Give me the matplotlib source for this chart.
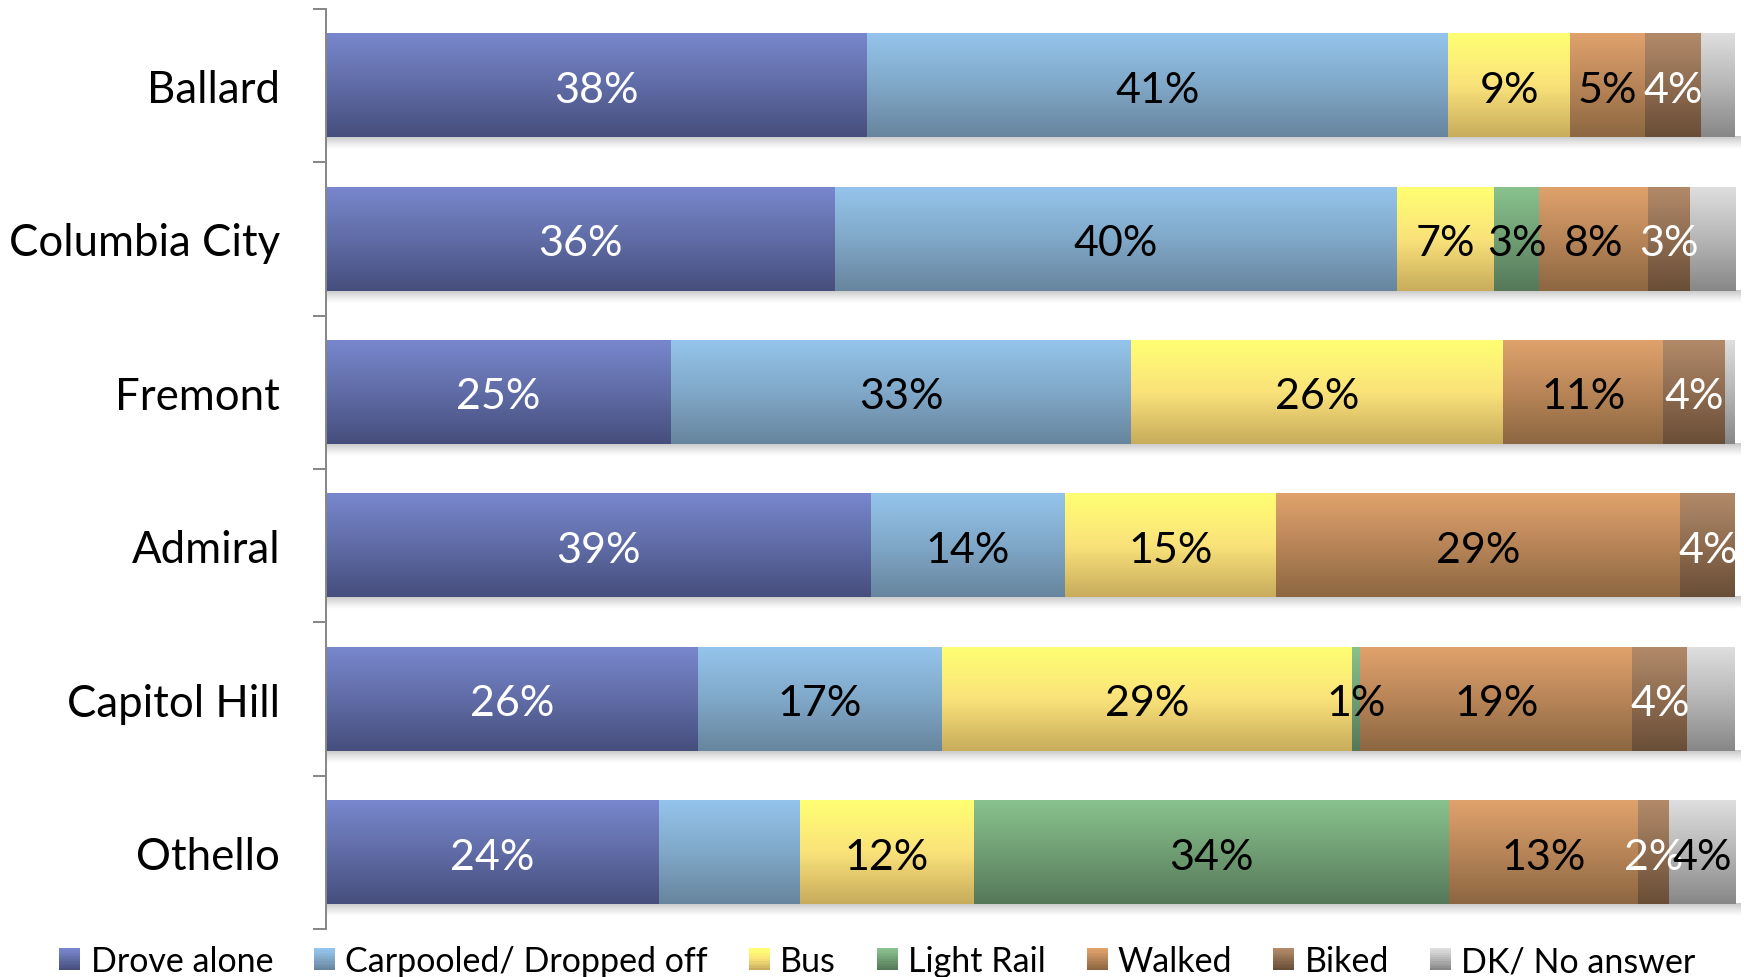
import matplotlib
matplotlib.use('Agg')
import matplotlib.pyplot as plt
from matplotlib.legend_handler import HandlerBase
from matplotlib.patches import Rectangle, Patch
import numpy as np

plt.rcParams['font.family'] = ['Lato', 'DejaVu Sans']

# data (share of respondents by commute mode)
neighborhoods = ["Ballard", "Columbia City", "Fremont", "Admiral", "Capitol Hill", "Othello"]
modes = ["Drove alone", "Carpooled/ Dropped off", "Bus", "Light Rail", "Walked", "Biked", "DK/ No answer"]

drove_alone = [38.4, 36.1, 24.5, 38.7, 26.4, 23.6]
carpooled = [41.2, 39.9, 32.7, 13.7, 17.3, 10.0]
bus = [8.7, 6.9, 26.4, 15.0, 29.1, 12.4]
light_rail = [0, 3.2, 0, 0, 0.6, 33.7]
walked = [5.3, 7.7, 11.4, 28.7, 19.3, 13.4]
biked = [4.0, 3.0, 4.4, 3.9, 3.9, 2.2]
dk = [2.4, 3.2, 0.7, 0, 3.4, 4.7]

# labels printed on the chart ("" = not shown)
label_drove = ["38%", "36%", "25%", "39%", "26%", "24%"]
label_carpool = ["41%", "40%", "33%", "14%", "17%", ""]
label_bus = ["9%", "7%", "26%", "15%", "29%", "12%"]
label_rail = ["", "3%", "", "", "1%", "34%"]
label_walked = ["5%", "8%", "11%", "29%", "19%", "13%"]
label_biked = ["4%", "3%", "4%", "4%", "4%", "2%"]
label_dk = ["", "", "", "", "", "4%"]

series = [drove_alone, carpooled, bus, light_rail, walked, biked, dk]
labels = [label_drove, label_carpool, label_bus, label_rail, label_walked, label_biked, label_dk]
label_colors = ["white", "black", "black", "black", "black", "white", "black"]

# gradient stops top -> bottom
grads = [
    [(120, 135, 205), (96, 108, 166), (70, 78, 125)],
    [(148, 196, 236), (128, 168, 200), (103, 133, 158)],
    [(255, 255, 115), (250, 226, 122), (200, 172, 92)],
    [(137, 194, 142), (112, 158, 116), (85, 120, 88)],
    [(224, 162, 108), (184, 133, 88), (140, 103, 65)],
    [(178, 138, 106), (142, 108, 80), (105, 78, 55)],
    [(222, 222, 222), (182, 182, 182), (135, 135, 135)],
]


def gradient_array(stops, n=128):
    stops = np.array(stops) / 255.0
    t = np.linspace(0, 1, n)
    pos = np.linspace(0, 1, len(stops))
    cols = np.stack([np.interp(t, pos, stops[:, k]) for k in range(3)], axis=1)
    return cols[:, None, :]


class GradientHandler(HandlerBase):
    def __init__(self, stops):
        super().__init__()
        self.stops = stops

    def create_artists(self, legend, orig_handle, xdescent, ydescent, width, height, fontsize, trans):
        cols = gradient_array(self.stops, 10)[:, 0, :]
        n = len(cols)
        arts = []
        for i, c in enumerate(cols):
            r = Rectangle((-xdescent, -ydescent + height * (1 - (i + 1) / n)), width, height / n * 1.05,
                          facecolor=c, edgecolor='none', transform=trans)
            arts.append(r)
        return arts


fig = plt.figure(figsize=(17.44, 9.78), dpi=100)
ax = fig.add_axes([0.187, 0.049, 0.808, 0.941])

y = np.arange(len(neighborhoods))
totals = np.sum(np.array(series, dtype=float), axis=0)
bar_h = 0.675

left = np.zeros(len(neighborhoods))
for vals, labs, lc, stops in zip(series, labels, label_colors, grads):
    share = np.array(vals) / totals * 100
    bars = ax.barh(y, share, left=left, height=bar_h, color='none', edgecolor='none')
    img = gradient_array(stops)
    for p in bars.patches:
        if p.get_width() <= 0:
            continue
        x0, y0 = p.get_x(), p.get_y()
        ax.imshow(img, extent=(x0, x0 + p.get_width(), y0, y0 + p.get_height()),
                  origin='lower', aspect='auto', interpolation='bilinear', zorder=2)
    txt = ax.bar_label(bars, labels=labs, label_type='center', color=lc, fontsize=31)
    for t in txt:
        t.set_zorder(5)
        t.xyann = (0, -3)  # nudge down a bit, like the original
    left = left + share

# soft shadow under each bar
shadow = np.zeros((32, 1, 4))
shadow[:, 0, 3] = np.linspace(0.32, 0.0, 32) ** 1.3
for yi in y:
    ax.imshow(shadow, extent=(0, 100.4, yi + bar_h / 2, yi + bar_h / 2 + 0.085),
              origin='lower', aspect='auto', interpolation='bilinear', zorder=1, clip_on=False)

ax.set_xlim(0, 100)
ax.set_ylim(len(neighborhoods) - 0.5, -0.5)

ax.set_yticks(y)
ax.set_yticklabels(neighborhoods, fontsize=31.5)
ax.set_yticks(np.arange(-0.5, len(neighborhoods)), minor=True)
ax.tick_params(axis='y', which='major', length=0, pad=33)
ax.tick_params(axis='y', which='minor', length=9.5, width=1.4, color='#868686')
ax.set_xticks([])
for s in ['top', 'right', 'bottom']:
    ax.spines[s].set_visible(False)
ax.spines['left'].set_color('#868686')
ax.spines['left'].set_linewidth(1.4)

handles = [Patch(label=m) for m in modes]
hmap = {h: GradientHandler(g) for h, g in zip(handles, grads)}
fig.legend(handles=handles, handler_map=hmap, loc='center', bbox_to_anchor=(0.503, 0.016),
           ncol=7, frameon=False, fontsize=24.5, handlelength=0.62, handleheight=0.62,
           handletextpad=0.3, columnspacing=1.2, borderaxespad=0, borderpad=0)

fig.savefig('out.png', dpi=100)
